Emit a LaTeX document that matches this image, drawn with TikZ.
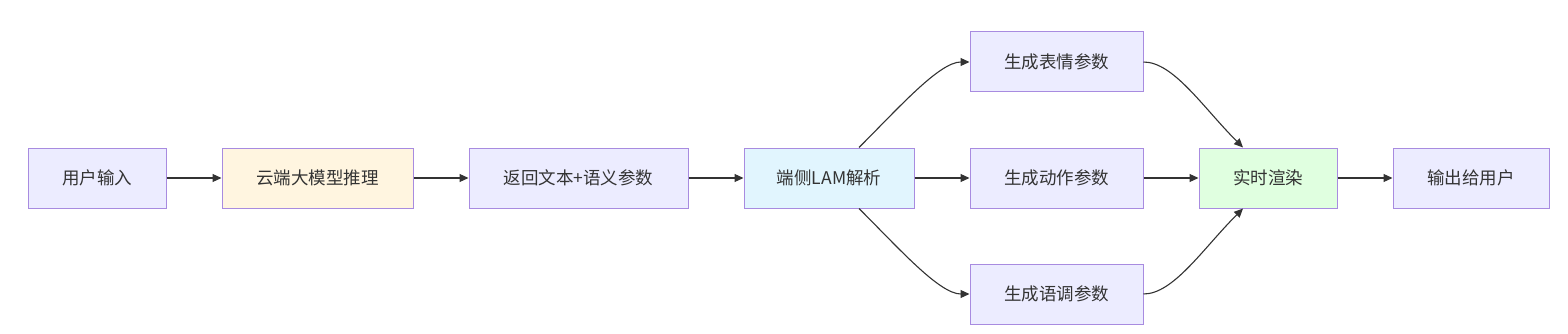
\documentclass[tikz,border=0pt]{standalone}
\usepackage{fontspec}
\setmainfont{Noto Sans CJK SC}
\usetikzlibrary{arrows.meta}
\definecolor{nfill}{HTML}{ECECFF}
\definecolor{nstroke}{HTML}{A88BE0}
\definecolor{cloudfill}{HTML}{FFF5E0}
\definecolor{edgefill}{HTML}{E1F5FE}
\definecolor{rendfill}{HTML}{E0FFE0}
\definecolor{txt}{HTML}{333333}
\definecolor{lnk}{HTML}{333333}
\begin{document}
\begin{tikzpicture}[x=1pt,y=-1pt,
  box/.style={draw=nstroke,line width=1pt,fill=nfill,minimum height=60pt,inner sep=0pt,
    text=txt,font=\fontsize{17.5}{20}\selectfont},
  link/.style={draw=lnk,line width=1.1pt,-{Triangle[length=9pt,width=8pt]}}]
\useasboundingbox (0,0) rectangle (1568,334);
\node[box,minimum width=138pt] (A) at (97,178) {用户输入};
\node[box,minimum width=191pt,fill=cloudfill] (B) at (317.5,178) {云端大模型推理};
\node[box,minimum width=219pt] (C) at (578.5,178) {返回文本+语义参数};
\node[box,minimum width=170pt,fill=edgefill] (D) at (829,178) {端侧LAM解析};
\node[box,minimum width=173pt] (E) at (1056.5,62) {生成表情参数};
\node[box,minimum width=173pt] (F) at (1056.5,178) {生成动作参数};
\node[box,minimum width=173pt] (G) at (1056.5,294) {生成语调参数};
\node[box,minimum width=138pt,fill=rendfill] (H) at (1268,178) {实时渲染};
\node[box,minimum width=156pt] (I) at (1471,178) {输出给用户};
\draw[link] (A) -- (B);
\draw[link] (B) -- (C);
\draw[link] (C) -- (D);
\draw[link] (D) -- (F);
\draw[link] (F) -- (H);
\draw[link] (H) -- (I);
\draw[link] ([xshift=30pt]D.north) .. controls +(40,-40) and +(-30,0) .. (E.west);
\draw[link] ([xshift=30pt]D.south) .. controls +(40,40) and +(-30,0) .. (G.west);
\draw[link] (E.east) .. controls +(30,0) and +(-40,-40) .. ([xshift=-25pt]H.north);
\draw[link] (G.east) .. controls +(30,0) and +(-40,40) .. ([xshift=-25pt]H.south);
\end{tikzpicture}
\end{document}
